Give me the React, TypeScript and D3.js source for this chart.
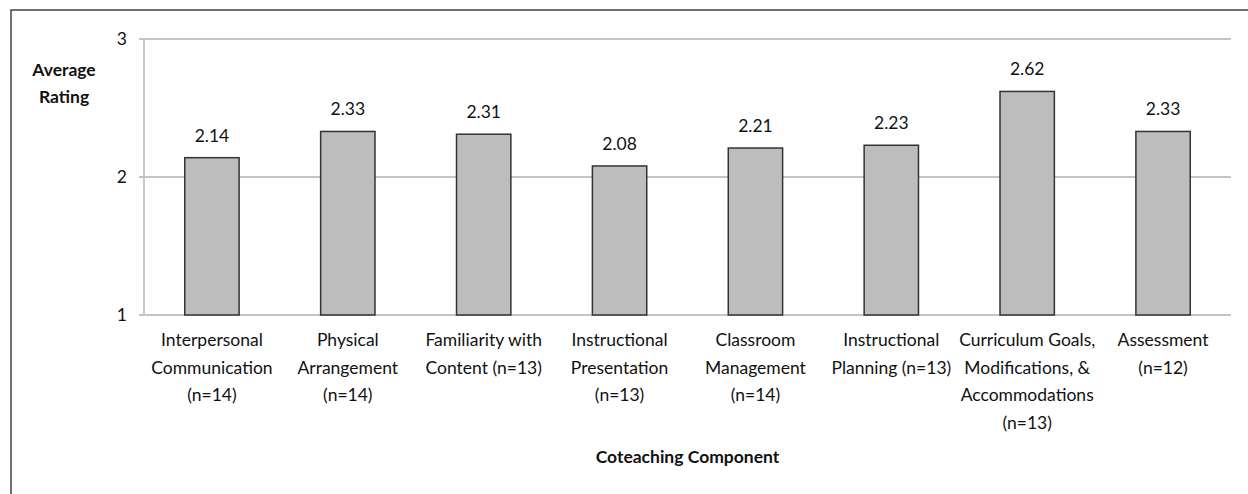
import React from "react";
import * as d3 from "d3";

const categories: string[][] = [
  ["Interpersonal", "Communication", "(n=14)"],
  ["Physical", "Arrangement", "(n=14)"],
  ["Familiarity with", "Content (n=13)"],
  ["Instructional", "Presentation", "(n=13)"],
  ["Classroom", "Management", "(n=14)"],
  ["Instructional", "Planning (n=13)"],
  ["Curriculum Goals,", "Modifications, &", "Accommodations", "(n=13)"],
  ["Assessment", "(n=12)"],
];
const values: number[] = [2.14, 2.33, 2.31, 2.08, 2.21, 2.23, 2.62, 2.33];
const yTicks: number[] = [1, 2, 3];
const yTitle: string[] = ["Average", "Rating"];
const xTitle = "Coteaching Component";

const W = 1248;
const H = 494;
const left = 144;
const right = 1231;
const top = 39;
const bottom = 315;
const FONT = "Lato, 'Open Sans', sans-serif";
const FS = 17.5;

export default function App() {
  const keys = categories.map((_, i) => String(i));
  const x = d3.scaleBand<string>().domain(keys).range([left, right]).paddingInner(0.6).paddingOuter(0.3);
  const y = d3.scaleLinear().domain([1, 3]).range([bottom, top]);
  return (
    <svg width={W} height={H} style={{ position: "absolute", left: 0, top: 0, background: "#fff" }}>
      <rect x={11} y={10} width={W + 20} height={H + 20} fill="#fff" stroke="#444" strokeWidth={1.5} />
      {yTicks.map((t) => (
        <g key={t}>
          <line x1={left - 5} x2={right} y1={y(t)} y2={y(t)} stroke="#c4c4c4" strokeWidth={1.8} />
          <text x={127} y={y(t)} dy="0.35em" textAnchor="end" fontFamily={FONT} fontSize={FS} fill="#111">
            {t}
          </text>
        </g>
      ))}
      <line x1={left} x2={left} y1={top} y2={bottom} stroke="#c4c4c4" strokeWidth={1.8} />
      {values.map((v, i) => {
        const bx = x(String(i))!;
        return (
          <g key={i}>
            <rect x={bx} y={y(v)} width={x.bandwidth()} height={y(1) - y(v)} fill="#bdbdbd" stroke="#333" strokeWidth={1.5} />
            <text x={bx + x.bandwidth() / 2} y={y(v) - 16} textAnchor="middle" fontFamily={FONT} fontSize={FS} fill="#111">
              {v.toFixed(2)}
            </text>
          </g>
        );
      })}
      {categories.map((lines, i) => {
        const cx = x(String(i))! + x.bandwidth() / 2;
        return (
          <text key={i} textAnchor="middle" fontFamily={FONT} fontSize={FS} fill="#111">
            {lines.map((l, j) => (
              <tspan key={j} x={cx} y={346 + j * 27.5}>
                {l}
              </tspan>
            ))}
          </text>
        );
      })}
      <text textAnchor="middle" fontFamily={FONT} fontSize={FS} fontWeight="bold" fill="#111">
        {yTitle.map((l, j) => (
          <tspan key={j} x={64} y={76 + j * 27}>
            {l}
          </tspan>
        ))}
      </text>
      <text x={(left + right) / 2} y={463} textAnchor="middle" fontFamily={FONT} fontSize={FS} fontWeight="bold" fill="#111">
        {xTitle}
      </text>
    </svg>
  );
}
